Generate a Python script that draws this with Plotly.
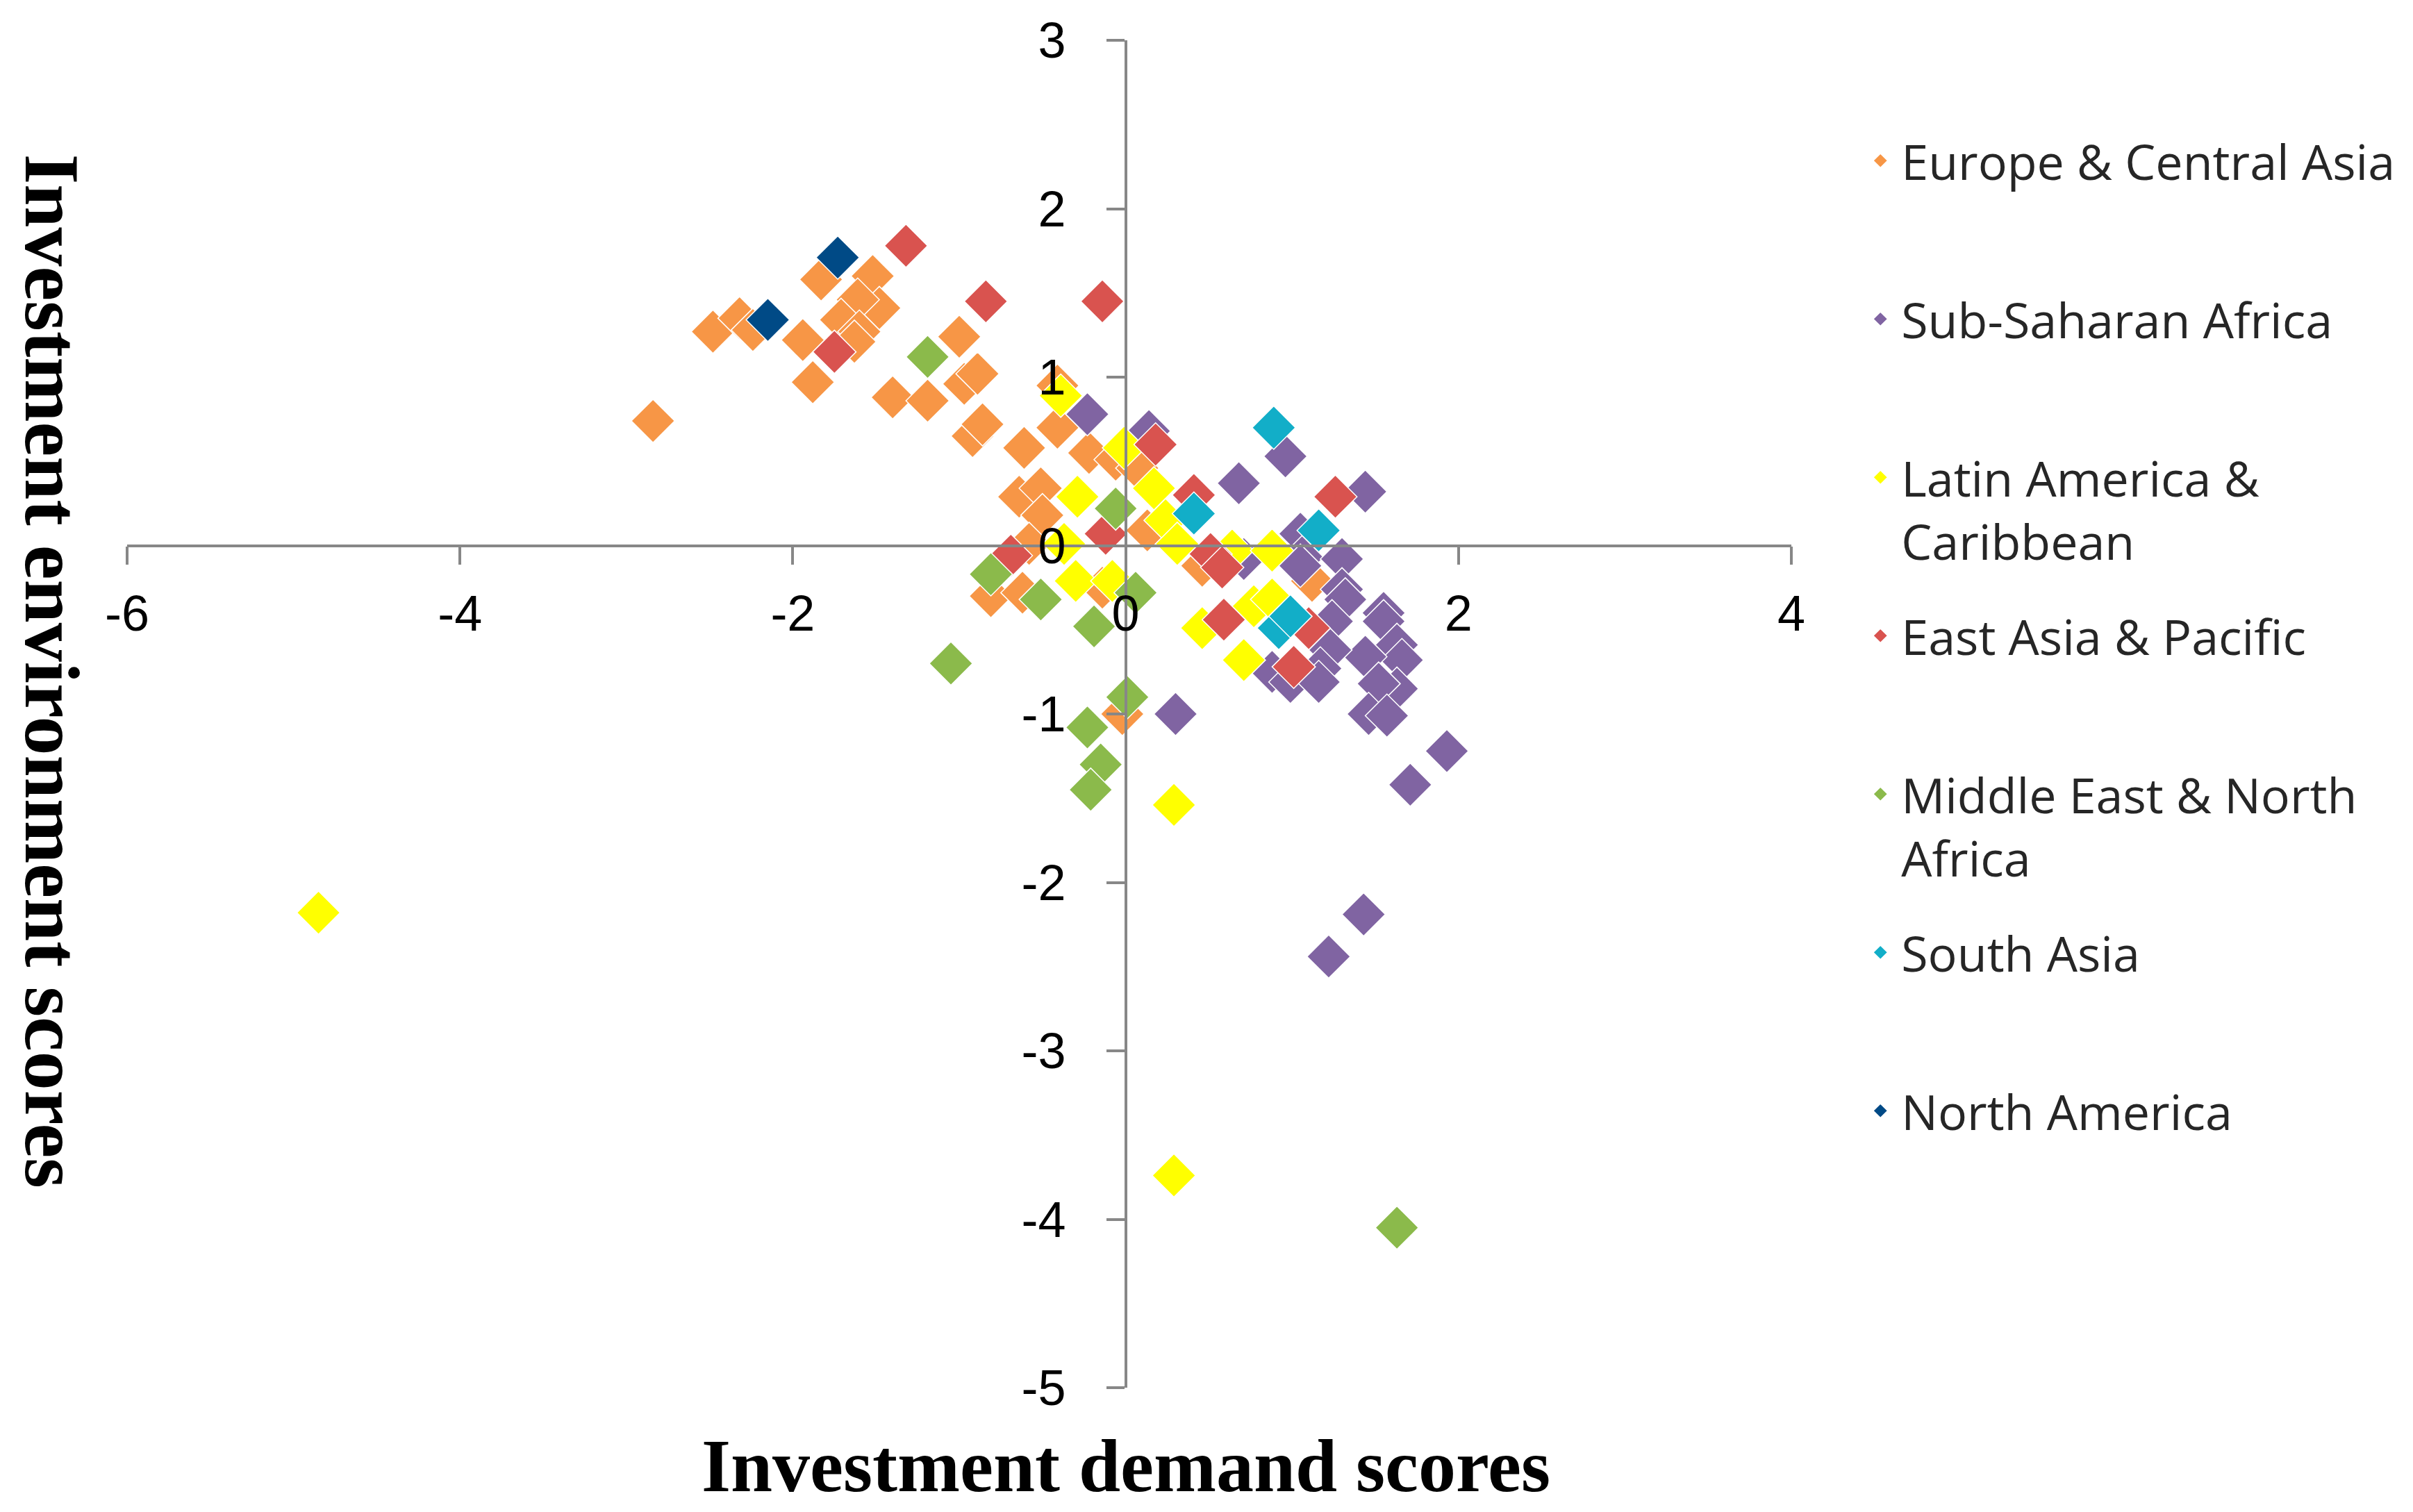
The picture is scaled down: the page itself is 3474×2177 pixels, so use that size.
import plotly.graph_objects as go

# ---- data ----
regions = ["Europe & Central Asia", "Sub-Saharan Africa", "Latin America &<br>Caribbean",
           "East Asia & Pacific", "Middle East & North<br>Africa", "South Asia", "North America"]

eca_x = [-2.84, -2.48, -2.32, -2.24, -1.94, -1.88, -1.83, -1.52, -1.48, -1.61, -1.71, -1.60, -1.63,
         -1.40, -1.19, -1.00, -0.97, -0.89, -0.92, -0.86, -0.61, -0.41, -0.41, -0.22, -0.06, 0.07,
         -0.64, -0.51, -0.50, -0.58, 0.13, 0.46, -0.81, -0.62, -0.14, -0.02, 1.12]
eca_y = [0.74, 1.27, 1.35, 1.28, 1.22, 0.97, 1.58, 1.60, 1.41, 1.46, 1.34, 1.27, 1.21,
         0.88, 0.86, 1.24, 0.96, 1.02, 0.65, 0.72, 0.58, 0.95, 0.70, 0.55, 0.51, 0.46,
         0.29, 0.34, 0.18, 0.01, 0.09, -0.12, -0.30, -0.28, -0.25, -1.00, -0.21]

ssa_x = [-0.23, 0.14, 0.68, 0.96, 1.44, 1.05, 0.71, 1.06, 1.30, 1.05, 1.30, 1.32, 1.24, 1.55,
         1.55, 1.63, 1.66, 1.44, 1.23, 1.17, 0.88, 0.99, 1.16, 1.63, 1.52, 1.46, 1.57, 1.93,
         1.71, 1.43, 1.22, 0.30]
ssa_y = [0.78, 0.68, 0.37, 0.53, 0.32, 0.07, -0.08, -0.07, -0.08, -0.12, -0.26, -0.32, -0.45, -0.40,
         -0.45, -0.59, -0.68, -0.66, -0.62, -0.73, -0.75, -0.81, -0.81, -0.85, -0.82, -1.00, -1.01, -1.22,
         -1.42, -2.19, -2.44, -1.00]

lac_x = [-0.39, -0.01, 0.17, -0.29, -0.37, 0.24, 0.31, 0.64, 0.88, -0.30, -0.08, 0.46, 0.71,
         0.77, 0.88, 0.29, 0.29, -4.85]
lac_y = [0.89, 0.58, 0.34, 0.29, 0.01, 0.15, 0.01, -0.03, -0.03, -0.21, -0.21, -0.49, -0.68,
         -0.36, -0.32, -1.54, -3.74, -2.18]

eap_x = [-1.32, -0.84, -0.14, -1.75, 0.18, 0.41, 1.26, -0.12, -0.69, 0.51, 0.58, 0.59, 1.10, 1.01]
eap_y = [1.78, 1.45, 1.45, 1.15, 0.60, 0.30, 0.29, 0.07, -0.06, -0.05, -0.13, -0.44, -0.49, -0.72]

mena_x = [-1.19, -0.06, -0.81, -0.51, 0.06, -0.19, -1.05, 0.01, -0.23, -0.15, -0.21, 1.63]
mena_y = [1.12, 0.22, -0.17, -0.32, -0.28, -0.48, -0.70, -0.90, -1.08, -1.30, -1.45, -4.05]

sa_x = [0.89, 0.41, 1.16, 0.92, 0.99]
sa_y = [0.70, 0.19, 0.09, -0.49, -0.42]

na_x = [-2.15, -1.73]
na_y = [1.34, 1.71]

series_x = [eca_x, ssa_x, lac_x, eap_x, mena_x, sa_x, na_x]
series_y = [eca_y, ssa_y, lac_y, eap_y, mena_y, sa_y, na_y]
colors = ["#F79646", "#8064A2", "#FFFF00", "#D9534F", "#8BBA4B", "#12AEC8", "#004A86"]

x_ticks = [-6, -4, -2, 0, 2, 4]
x_labels = ["-6", "-4", "-2", "0", "2", "4"]
y_ticks = [-5, -4, -3, -2, -1, 0, 1, 2, 3]
y_labels = ["-5", "-4", "-3", "-2", "-1", "0", "1", "2", "3"]

# ---- figure ----
fig = go.Figure()
for i, name in enumerate(regions):
    label = name if "<br>" in name else name + "<br> "
    fig.add_trace(go.Scatter(
        x=series_x[i], y=series_y[i], mode="markers", name=label,
        legendgroup="g%d" % i,
        marker=dict(symbol="diamond", size=48, color=colors[i],
                    line=dict(color="white", width=1.5)),
    ))

tick_font = dict(family="Liberation Sans Narrow, Arial Narrow, Liberation Sans, sans-serif",
                 size=72, color="black")
fig.update_layout(
    width=3474, height=2177,
    margin=dict(l=175, r=903, t=50, b=187, autoexpand=False),
    paper_bgcolor="white", plot_bgcolor="white",
    showlegend=True,
    legend=dict(x=1.041, y=0.9375, xanchor="left", yanchor="top",
                font=dict(family="Open Sans, Noto Sans, sans-serif", size=70, color="#262626"),
                valign="top", tracegroupgap=43, itemwidth=50, bgcolor="rgba(0,0,0,0)"),
    xaxis=dict(range=[-6, 4], tickvals=x_ticks, ticktext=x_labels, showgrid=False, zeroline=False,
               showline=True, linecolor="#878787", linewidth=3.5,
               ticks="outside", ticklen=26, tickwidth=3.5, tickcolor="#878787",
               tickfont=tick_font, anchor="free", position=0.625, domain=[0, 1],
               ticklabelstandoff=8, ticklabeloverflow="allow", automargin=False),
    yaxis=dict(range=[-5, 3], tickvals=y_ticks, ticktext=y_labels, showgrid=False, zeroline=False,
               showline=True, linecolor="#878787", linewidth=3.5,
               ticks="outside", ticklen=26, tickwidth=3.5, tickcolor="#878787",
               tickfont=tick_font, anchor="free", position=0.6, domain=[0, 1],
               ticklabelstandoff=44, ticklabeloverflow="allow", automargin=False),
    annotations=[
        dict(text="<b>Investment demand scores</b>", xref="paper", yref="paper",
             x=0.6, y=-0.058, xanchor="center", yanchor="middle", showarrow=False,
             font=dict(family="Liberation Serif, Times New Roman, serif", size=108, color="black")),
        dict(text="<b>Investment environment scores</b>", xref="paper", yref="paper",
             x=-0.045, y=0.532, xanchor="center", yanchor="middle", showarrow=False,
             textangle=90,
             font=dict(family="Liberation Serif, Times New Roman, serif", size=112, color="black")),
    ],
)

fig.write_html("out.html")
